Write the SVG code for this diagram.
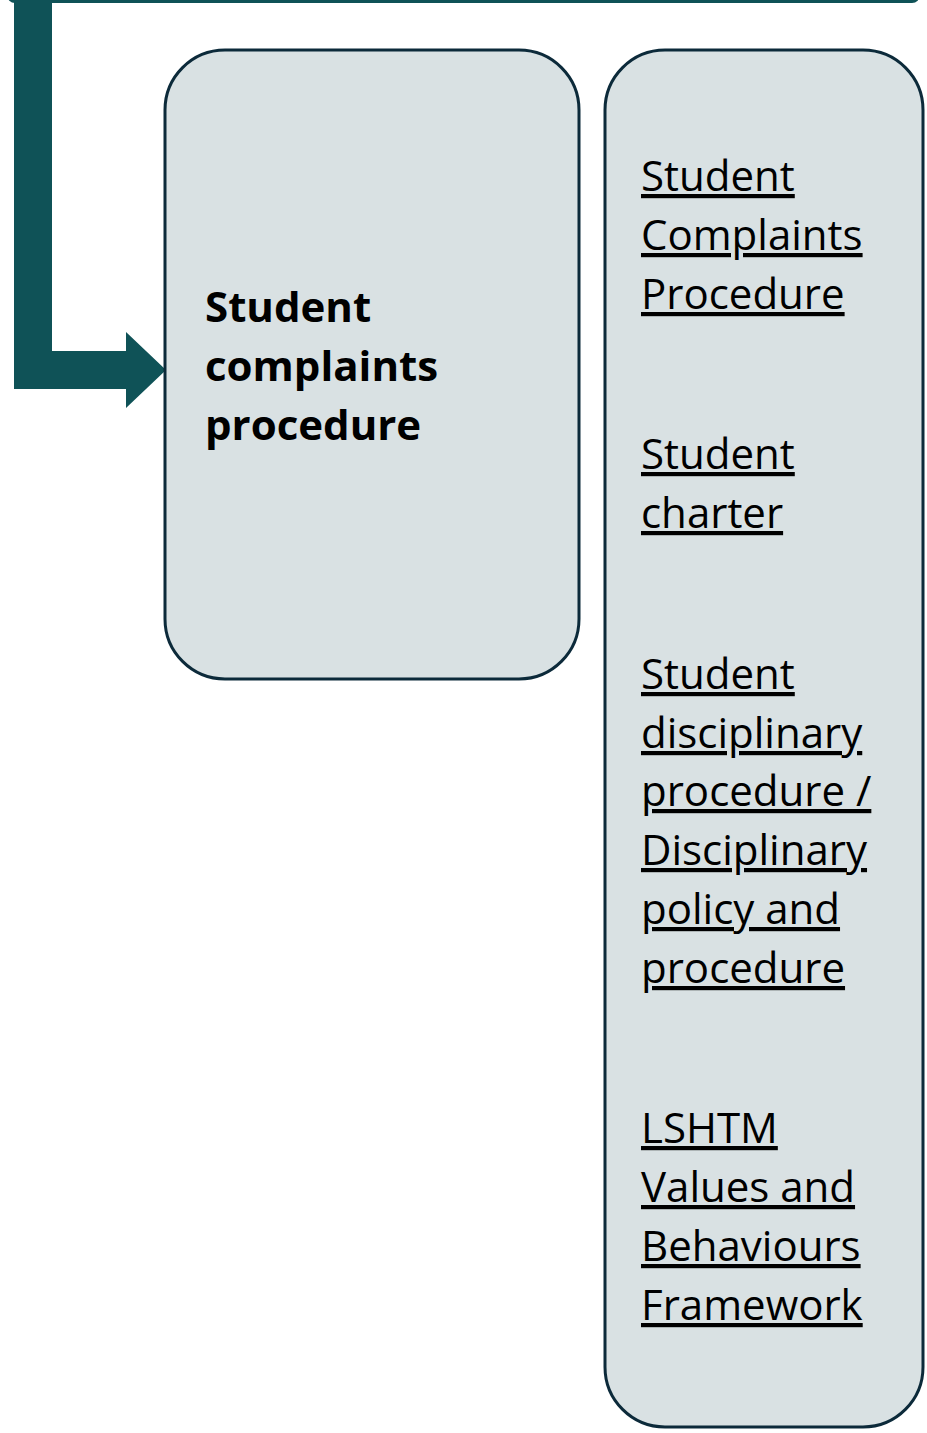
<svg xmlns="http://www.w3.org/2000/svg" width="927" height="1433" viewBox="0 0 927 1433">
<style>
.box{fill:#d9e1e3;stroke:#0c2a3a;stroke-width:3}
.t{font-family:"Open Sans","Noto Sans",sans-serif;font-size:42px;fill:#000}
.b{font-weight:bold}
.u{text-decoration:underline}
</style>
<rect width="927" height="1433" fill="#ffffff"/>
<g id="top-node">
<rect x="7" y="-60" width="913" height="63" rx="8" fill="#0f5257"/>
</g>
<g id="connectors">
<path d="M14 0 H52 V351 H126 V332 L166 370 L126 408 V389 H14 Z" fill="#0f5257"/>
</g>
<g id="node-complaints">
<rect class="box" x="165" y="50" width="414" height="629" rx="60"/>
<text class="t b" x="205"><tspan x="205" y="322">Student</tspan><tspan x="205" y="381">complaints</tspan><tspan x="205" y="440">procedure</tspan></text>
</g>
<g id="node-links">
<rect class="box" x="605" y="50" width="318" height="1377" rx="60"/>
<text class="t u" x="641"><tspan x="641" y="191">Student</tspan><tspan x="641" y="250">Complaints</tspan><tspan x="641" y="309">Procedure</tspan></text>
<text class="t u" x="641"><tspan x="641" y="469">Student</tspan><tspan x="641" y="528">charter</tspan></text>
<text class="t u" x="641"><tspan x="641" y="689">Student</tspan><tspan x="641" y="748">disciplinary</tspan><tspan x="641" y="806">procedure /</tspan><tspan x="641" y="865">Disciplinary</tspan><tspan x="641" y="924">policy and</tspan><tspan x="641" y="983">procedure</tspan></text>
<text class="t u" x="641"><tspan x="641" y="1143">LSHTM</tspan><tspan x="641" y="1202">Values and</tspan><tspan x="641" y="1261">Behaviours</tspan><tspan x="641" y="1320">Framework</tspan></text>
</g>
</svg>
